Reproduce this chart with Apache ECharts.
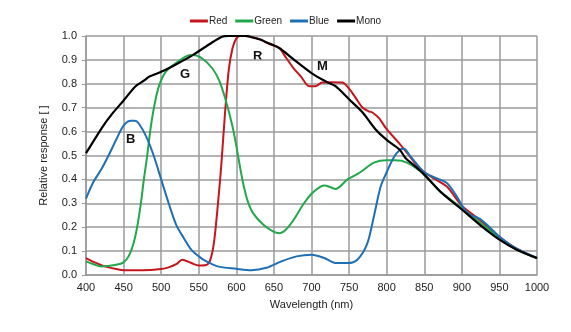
<!DOCTYPE html>
<html>
<head>
<meta charset="utf-8">
<script src="https://cdn.jsdelivr.net/npm/echarts@6/dist/echarts.min.js"></script>
<style>
  html, body { margin: 0; padding: 0; background: #fff; }
  #chart { width: 571px; height: 332px; }
</style>
</head>
<body>
<div id="chart"></div>
<script>
// Spectral response curves (wavelength in nm, relative response)
const redWl  = [400, 410, 425, 440, 450, 475, 500, 510, 520, 528, 540, 550, 560, 565, 570, 575, 580, 585, 590, 595, 600, 605, 612, 620, 632, 645, 657, 666, 675, 686, 697, 705, 714, 727, 741, 750, 759, 768, 776, 781, 790, 800, 817, 830, 840, 850, 862, 880, 900, 924, 950, 973, 1000];
const redVal = [0.071, 0.055, 0.036, 0.025, 0.02, 0.02, 0.025, 0.032, 0.045, 0.064, 0.05, 0.04, 0.042, 0.06, 0.13, 0.28, 0.46, 0.68, 0.86, 0.95, 0.99, 1.0, 1.0, 0.995, 0.985, 0.965, 0.95, 0.91, 0.87, 0.83, 0.79, 0.79, 0.805, 0.807, 0.805, 0.78, 0.74, 0.7, 0.685, 0.68, 0.655, 0.61, 0.55, 0.5, 0.46, 0.43, 0.405, 0.37, 0.29, 0.23, 0.16, 0.11, 0.07];

const greenWl  = [400, 410, 420, 440, 450, 457, 463, 468, 473, 477, 481, 486, 491, 497, 506, 519, 533, 542, 555, 568, 577, 586, 595, 600, 605, 610, 615, 622, 636, 650, 658, 666, 675, 690, 700, 712, 718, 732, 748, 765, 783, 800, 811, 827, 850, 871, 900, 924, 950, 973, 1000];
const greenVal = [0.057, 0.045, 0.036, 0.043, 0.053, 0.08, 0.13, 0.2, 0.3, 0.4, 0.49, 0.615, 0.71, 0.79, 0.85, 0.885, 0.915, 0.92, 0.905, 0.865, 0.815, 0.73, 0.62, 0.54, 0.45, 0.37, 0.31, 0.26, 0.21, 0.18, 0.175, 0.19, 0.225, 0.3, 0.34, 0.37, 0.375, 0.36, 0.4, 0.43, 0.47, 0.48, 0.48, 0.47, 0.42, 0.35, 0.28, 0.22, 0.155, 0.106, 0.071];

const blueWl  = [400, 410, 420, 430, 440, 450, 460, 465, 470, 480, 490, 500, 510, 520, 530, 540, 550, 560, 575, 600, 620, 640, 660, 680, 700, 717, 732, 748, 761, 774, 783, 792, 800, 809, 818, 823, 832, 850, 862, 880, 893, 907, 924, 938, 950, 973, 1000];
const blueVal = [0.32, 0.39, 0.44, 0.5, 0.565, 0.625, 0.645, 0.645, 0.635, 0.58, 0.5, 0.4, 0.3, 0.21, 0.155, 0.106, 0.078, 0.057, 0.036, 0.026, 0.02, 0.03, 0.057, 0.078, 0.085, 0.071, 0.05, 0.05, 0.064, 0.13, 0.245, 0.37, 0.43, 0.49, 0.525, 0.528, 0.495, 0.43, 0.41, 0.385, 0.33, 0.26, 0.235, 0.197, 0.16, 0.11, 0.071];

const monoWl  = [400, 410, 422, 435, 450, 466, 478, 484, 492, 500, 519, 542, 559, 570, 581, 590, 600, 612, 621, 632, 639, 657, 675, 700, 719, 732, 750, 768, 785, 800, 817, 825, 836, 850, 871, 900, 924, 950, 973, 1000];
const monoVal = [0.51, 0.56, 0.62, 0.675, 0.73, 0.79, 0.815, 0.83, 0.84, 0.85, 0.88, 0.92, 0.955, 0.977, 0.997, 1.0, 1.0, 1.0, 0.995, 0.985, 0.975, 0.95, 0.905, 0.845, 0.81, 0.79, 0.735, 0.68, 0.61, 0.565, 0.525, 0.49, 0.46, 0.42, 0.35, 0.274, 0.21, 0.148, 0.106, 0.071];

const xTicks = [400, 1000, 50];
const yTicks = [0, 1, 0.1];

const pairs = (xs, ys) => xs.map((x, i) => [x, ys[i]]);

const chart = echarts.init(document.getElementById('chart'));
const font = 'Liberation Sans, Arial, sans-serif';

function line(name, color, xs, ys, width) {
  return {
    name, type: 'line', data: pairs(xs, ys),
    smooth: 0.3, showSymbol: false, symbol: 'none',
    lineStyle: { color, width }, itemStyle: { color },
    z: 3
  };
}

chart.setOption({
  animation: false,
  textStyle: { fontFamily: font },
  legend: {
    top: 11, left: 'center',
    itemWidth: 18, itemHeight: 3, itemGap: 8,
    icon: 'rect',
    textStyle: { fontSize: 10, color: '#222', fontFamily: font, padding: [0, 0, 0, -4] },
    data: ['Red', 'Green', 'Blue', 'Mono']
  },
  grid: { left: 86, right: 34, top: 36, bottom: 57 },
  xAxis: {
    type: 'value', min: xTicks[0], max: xTicks[1], interval: xTicks[2],
    name: 'Wavelength (nm)', nameLocation: 'middle', nameGap: 24,
    nameTextStyle: { fontSize: 11, color: '#222', fontFamily: font },
    axisLine: { show: true, lineStyle: { color: '#9a9a9a', width: 1.5 } },
    axisTick: { show: false },
    axisLabel: { fontSize: 11, color: '#222', margin: 7, fontFamily: font,
      formatter: v => String(v) },
    splitLine: { show: true, lineStyle: { color: '#9a9a9a', width: 1.5 } }
  },
  yAxis: {
    type: 'value', min: yTicks[0], max: yTicks[1], interval: yTicks[2],
    name: 'Relative response [ ]', nameLocation: 'middle', nameGap: 37,
    nameTextStyle: { fontSize: 11, color: '#222', fontFamily: font },
    axisLine: { show: true, lineStyle: { color: '#9a9a9a', width: 1.5 } },
    axisTick: { show: true, length: 4, inside: false, lineStyle: { color: '#9a9a9a' } },
    axisLabel: { fontSize: 11, color: '#222', margin: 9, fontFamily: font,
      formatter: v => v.toFixed(1) },
    splitLine: { show: true, lineStyle: { color: '#9a9a9a', width: 1.5 } }
  },
  series: [
    line('Red', '#c4161c', redWl, redVal, 2),
    line('Green', '#22a84a', greenWl, greenVal, 2),
    line('Blue', '#1f6fb5', blueWl, blueVal, 2),
    line('Mono', '#000000', monoWl, monoVal, 2.2)
  ],
  graphic: [
    { type: 'text', left: 126, top: 133, style: { text: 'B', font: 'bold 13px ' + font, fill: '#111' } },
    { type: 'text', left: 180, top: 68, style: { text: 'G', font: 'bold 13px ' + font, fill: '#111' } },
    { type: 'text', left: 253, top: 50, style: { text: 'R', font: 'bold 13px ' + font, fill: '#111' } },
    { type: 'text', left: 317, top: 60, style: { text: 'M', font: 'bold 13px ' + font, fill: '#111' } }
  ]
});
</script>
</body>
</html>
